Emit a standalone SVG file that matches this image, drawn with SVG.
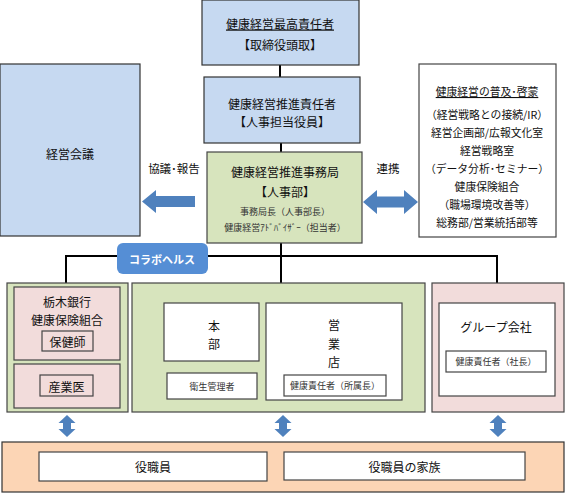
<svg xmlns="http://www.w3.org/2000/svg" width="567" height="494" viewBox="0 0 567 494">
<style>
text{font-family:"Noto Sans CJK JP","Noto Sans CJK SC",sans-serif;fill:#111;text-anchor:middle;dominant-baseline:central}
.m{font-size:12px}
.r{font-size:10.8px}
.l{font-size:11.5px}
.s{font-size:9px;fill:#333}
.blue{fill:#c6d9f1;stroke:#333;stroke-width:1.2}
.green{fill:#d7e4bd;stroke:#444;stroke-width:1.2}
.pink{fill:#f2dcdb;stroke:#444;stroke-width:1.2}
.white{fill:#fff;stroke:#444;stroke-width:1.2}
.peach{fill:#fcd5b5;stroke:#333;stroke-width:1.2}
.ln{stroke:#000;stroke-width:2;fill:none}
.arr{fill:#4f81bd}
.u{text-decoration:underline}
</style>
<defs>
<polygon id="varr" points="0,-11 8.5,-3 4,-3 4,3 8.5,3 0,11 -8.5,3 -4,3 -4,-3 -8.5,-3" class="arr"/>
</defs>
<g id="connectors">
<line class="ln" x1="280" y1="65" x2="280" y2="77"/>
<line class="ln" x1="281" y1="143" x2="281" y2="152"/>
<line class="ln" x1="281" y1="243" x2="281" y2="283"/>
<polyline class="ln" points="66,283 66,256 497,256 497,283"/>
<line class="ln" x1="214" y1="361" x2="214" y2="373"/>
<polygon class="arr" points="142,201.5 156,190 156,196 195,196 195,207 156,207 156,213"/>
<polygon class="arr" points="363,202 377,190 377,196.5 404,196.5 404,190 418,202 404,214 404,207.5 377,207.5 377,214"/>
<use href="#varr" x="67" y="426"/>
<use href="#varr" x="283" y="426"/>
<use href="#varr" x="498" y="426"/>
<text class="l" x="174" y="168">協議･報告</text>
<text class="l" x="388" y="168">連携</text>
</g>
<g id="top">
<rect class="blue" x="202" y="0" width="157" height="65"/>
<text class="m u" x="280" y="23">健康経営最高責任者</text>
<text class="m" x="280" y="44">【取締役頭取】</text>
</g>
<g id="promoter">
<rect class="blue" x="204" y="77" width="156" height="66"/>
<text class="m" x="282" y="103">健康経営推進責任者</text>
<text class="m" x="282" y="121">【人事担当役員】</text>
</g>
<g id="board">
<rect class="blue" x="0" y="64" width="140" height="172"/>
<text class="m" x="70" y="153">経営会議</text>
</g>
<g id="office">
<rect class="green" x="207" y="152" width="155" height="91"/>
<text class="m" x="285" y="171">健康経営推進事務局</text>
<text class="m" x="285" y="191">【人事部】</text>
<text class="s" x="285" y="211">事務局長（人事部長）</text>
<text class="s" x="285" y="227">健康経営ｱﾄﾞﾊﾞｲｻﾞｰ（担当者）</text>
</g>
<g id="spread">
<rect class="white" x="419" y="64" width="137" height="173"/>
<text class="r u" x="487" y="91">健康経営の普及･啓蒙</text>
<text class="r" x="487" y="114">（経営戦略との接続/IR）</text>
<text class="r" x="487" y="132">経営企画部/広報文化室</text>
<text class="r" x="487" y="150">経営戦略室</text>
<text class="r" x="487" y="168">（データ分析･セミナー）</text>
<text class="r" x="487" y="186">健康保険組合</text>
<text class="r" x="487" y="204">（職場環境改善等）</text>
<text class="r" x="487" y="222">総務部/営業統括部等</text>
</g>
<g id="collabo">
<rect x="117" y="243" width="91" height="31" rx="6" fill="#558ed5"/>
<text x="162" y="258.5" style="font-size:11px;font-weight:bold;fill:#fff">コラボヘルス</text>
</g>
<g id="kenpo">
<rect class="green" x="7" y="283" width="121" height="129"/>
<rect class="pink" x="14" y="287" width="106" height="73"/>
<text class="m" x="67" y="301">栃木銀行</text>
<text class="m" x="67" y="319">健康保険組合</text>
<rect class="pink" x="42" y="331" width="51" height="20"/>
<text class="m" x="67.5" y="341">保健師</text>
<rect class="pink" x="14" y="364" width="106" height="44"/>
<rect class="pink" x="40" y="375" width="53" height="21"/>
<text class="m" x="66.5" y="386">産業医</text>
</g>
<g id="bank">
<rect class="green" x="132" y="283" width="293" height="129"/>
<rect class="white" x="164" y="303" width="95" height="58"/>
<text class="m" x="214" y="325">本</text>
<text class="m" x="214" y="343">部</text>
<rect class="white" x="167" y="373" width="90" height="26"/>
<text class="s" x="212" y="386">衛生管理者</text>
<rect class="white" x="266" y="303" width="136" height="97"/>
<text class="m" x="334" y="324">営</text>
<text class="m" x="334" y="343">業</text>
<text class="m" x="334" y="361">店</text>
<rect class="white" x="284" y="375" width="102" height="21"/>
<text class="s" x="335" y="385.5">健康責任者（所属長）</text>
</g>
<g id="group">
<rect class="pink" x="432" y="283" width="132" height="129"/>
<rect class="white" x="439" y="303" width="116" height="93"/>
<text class="m" x="496" y="326">グループ会社</text>
<rect class="white" x="446" y="351" width="100" height="21"/>
<text class="s" x="496" y="361.5">健康責任者（社長）</text>
</g>
<g id="staff">
<rect class="peach" x="2" y="442" width="562" height="50"/>
<rect class="white" x="39" y="452" width="228" height="29"/>
<text class="m" x="153" y="466.5">役職員</text>
<rect class="white" x="284" y="452" width="241" height="28"/>
<text class="m" x="404.5" y="466">役職員の家族</text>
</g>
</svg>
